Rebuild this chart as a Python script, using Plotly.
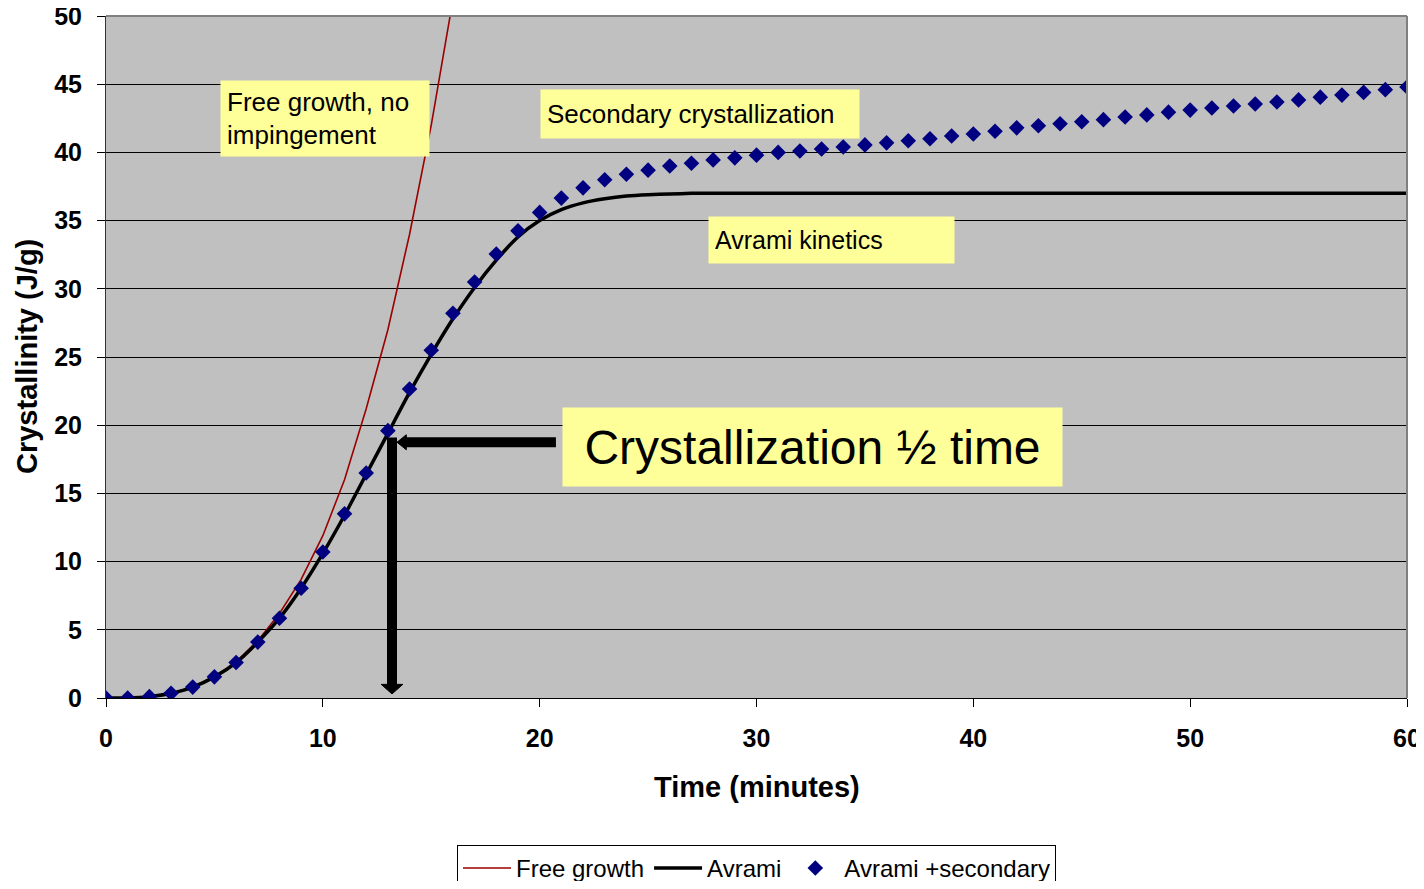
import plotly.graph_objects as go

# time in minutes
t_secondary = list(range(0, 61))
avrami_secondary = [
    0.0, 0.0, 0.1, 0.35, 0.8, 1.55, 2.6, 4.1, 5.85, 8.05,
    10.7, 13.5, 16.5, 19.6, 22.65, 25.5, 28.2, 30.5, 32.55, 34.25,
    35.6, 36.65, 37.4, 38.0, 38.4, 38.7, 39.0, 39.2, 39.45, 39.6,
    39.8, 40.0, 40.1, 40.25, 40.4, 40.55, 40.7, 40.85, 41.0, 41.2,
    41.35, 41.55, 41.8, 41.95, 42.1, 42.25, 42.4, 42.6, 42.75, 42.95,
    43.1, 43.25, 43.4, 43.55, 43.7, 43.85, 44.05, 44.2, 44.4, 44.6,
    44.8,
]

t_avrami = list(range(0, 61))
avrami = [
    0.0, 0.0, 0.1, 0.35, 0.8, 1.55, 2.6, 4.1, 5.85, 8.05,
    10.6, 13.4, 16.4, 19.4, 22.4, 25.2, 27.8, 30.1, 32.1, 33.8,
    35.0, 35.8, 36.3, 36.6, 36.8, 36.9, 36.95, 37.0, 37.0, 37.0,
    37.0, 37.0, 37.0, 37.0, 37.0, 37.0, 37.0, 37.0, 37.0, 37.0,
    37.0, 37.0, 37.0, 37.0, 37.0, 37.0, 37.0, 37.0, 37.0, 37.0,
    37.0, 37.0, 37.0, 37.0, 37.0, 37.0, 37.0, 37.0, 37.0, 37.0,
    37.0,
]

t_free = list(range(0, 17))
free_growth = [
    0.0, 0.0, 0.1, 0.35, 0.8, 1.55, 2.65, 4.2, 6.2, 8.7,
    11.9, 16.0, 21.2, 27.0, 34.0, 42.0, 51.2,
]

FONT = "Liberation Sans, Arial, sans-serif"

fig = go.Figure()

fig.add_trace(go.Scatter(
    x=t_free, y=free_growth, mode="lines", name="Free growth",
    line=dict(color="#990000", width=1.6),
))
fig.add_trace(go.Scatter(
    x=t_avrami, y=avrami, mode="lines", name="Avrami",
    line=dict(color="black", width=3.5, shape="spline", smoothing=0.6),
))
fig.add_trace(go.Scatter(
    x=t_secondary, y=avrami_secondary, mode="markers", name="Avrami +secondary",
    marker=dict(symbol="diamond", color="#000080", size=12, line=dict(width=0)),
))

# yellow text boxes: left/top in data units, box size in px
boxes = [
    dict(x=5.26, y=45.3, w=208, h=75, text="Free growth, no<br>impingement",
         size=26, pad=6, align="left"),
    dict(x=20.02, y=44.65, w=318, h=48, text="Secondary crystallization",
         size=26, pad=6, align="left"),
    dict(x=27.77, y=35.34, w=245, h=46, text="Avrami kinetics",
         size=25, pad=6, align="left"),
    dict(x=21.03, y=21.33, w=499, h=78, text="Crystallization ½ time",
         size=48, pad=4, align="center"),
]
for b in boxes:
    fig.add_annotation(
        x=b["x"], y=b["y"], xref="x", yref="y", text=b["text"],
        showarrow=False, xanchor="left", yanchor="top", align=b["align"],
        width=b["w"] - 2 * b["pad"], height=b["h"] - 2 * b["pad"],
        valign="middle",
        bgcolor="#FFFF99", borderpad=b["pad"],
        font=dict(family=FONT, size=b["size"], color="black"),
    )

# half-time arrows
y_half = 18.75
x_half = 13.19
fig.add_shape(type="line", x0=20.75, x1=13.75, y0=y_half, y1=y_half,
              line=dict(color="black", width=10))
fig.add_shape(type="path",
              path=f"M 13.42 {y_half} L 13.85 {y_half + 0.55} L 13.85 {y_half - 0.55} Z",
              fillcolor="black", line=dict(color="black", width=1))
fig.add_shape(type="line", x0=x_half, x1=x_half, y0=y_half + 0.35, y1=0.9,
              line=dict(color="black", width=10))
fig.add_shape(type="path",
              path=f"M {x_half - 0.5} 1.0 L {x_half + 0.5} 1.0 L {x_half} 0.3 Z",
              fillcolor="black", line=dict(color="black", width=1))

# axis titles
fig.add_annotation(
    x=0.5, y=0, xref="paper", yref="paper", yshift=-89,
    text="<b>Time (minutes)</b>", showarrow=False,
    xanchor="center", yanchor="middle",
    font=dict(family=FONT, size=29, color="black"),
)
fig.add_annotation(
    x=0, y=0.5, xref="paper", yref="paper", xshift=-79,
    text="<b>Crystallinity (J/g)</b>", showarrow=False, textangle=-90,
    xanchor="center", yanchor="middle",
    font=dict(family=FONT, size=29, color="black"),
)

# page body has an 8px margin; keep the page inside the window,
# the legend box runs past the bottom edge as in the original
fig.update_layout(
    width=1416, height=873,
    margin=dict(l=98, r=17, t=8, b=183, autoexpand=False),
    paper_bgcolor="white", plot_bgcolor="#C0C0C0",
    font=dict(family=FONT, color="black"),
    showlegend=True,
    legend=dict(
        orientation="h", x=0.5, xanchor="center", y=-0.2155, yanchor="top",
        bordercolor="black", borderwidth=1, bgcolor="white",
        font=dict(family=FONT, size=24), itemwidth=48,
    ),
    xaxis=dict(
        range=[0, 60], tickvals=[0, 10, 20, 30, 40, 50, 60],
        ticks="outside", ticklen=8, tickcolor="black",
        ticklabelstandoff=10, automargin=False, ticklabeloverflow="allow",
        showgrid=False, zeroline=False,
        showline=True, linecolor="black", linewidth=1, mirror=False,
        tickfont=dict(family=FONT, size=25, color="black", weight="bold"),
    ),
    yaxis=dict(
        range=[0, 50], dtick=5,
        ticks="outside", ticklen=8, tickcolor="black",
        ticklabelstandoff=10, automargin=False, ticklabeloverflow="allow",
        showgrid=True, gridcolor="black", gridwidth=1, zeroline=False,
        showline=True, linecolor="#333333", linewidth=1,
        tickfont=dict(family=FONT, size=25, color="black", weight="bold"),
    ),
)

# top and right plot border
fig.add_shape(type="line", xref="paper", yref="paper", x0=0, x1=1, y0=1, y1=1,
              line=dict(color="#808080", width=2))
fig.add_shape(type="line", xref="paper", yref="paper", x0=1, x1=1, y0=0, y1=1,
              line=dict(color="#808080", width=2))

fig.write_html("out.html")
